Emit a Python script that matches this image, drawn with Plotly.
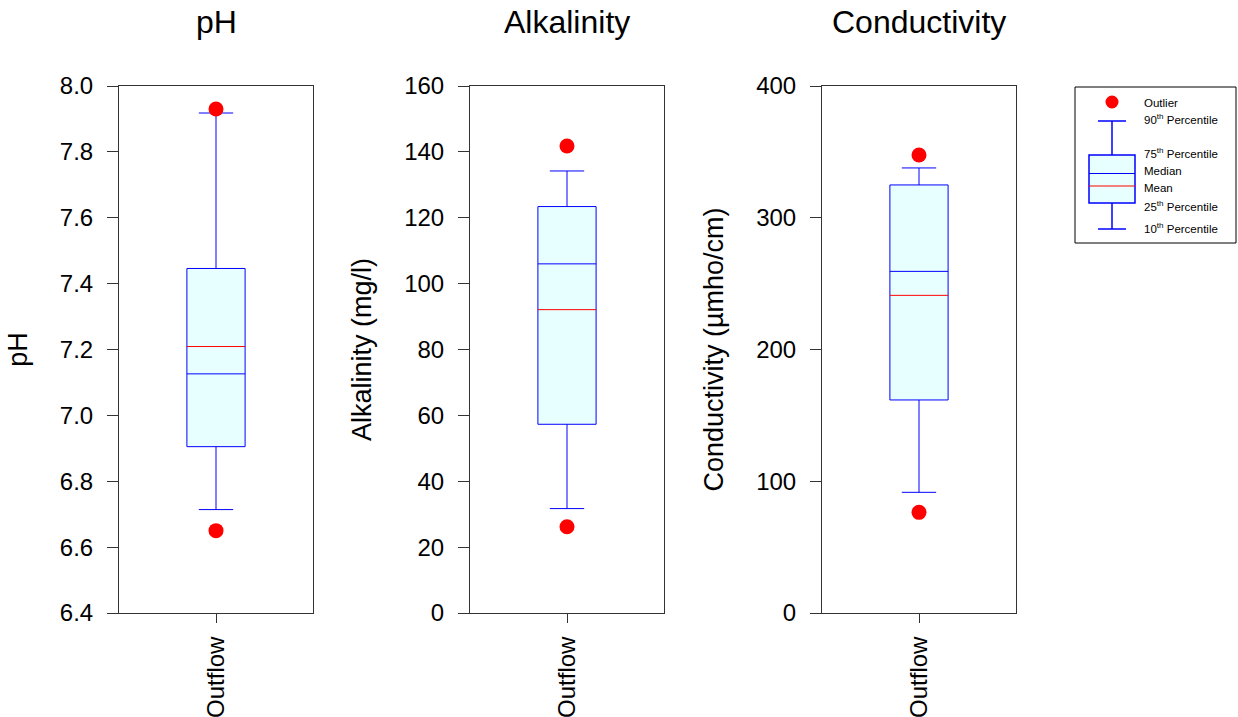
import plotly.graph_objects as go

# ---------------- data ----------------
categories = ["Outflow"]
panel_titles = ["pH", "Alkalinity", "Conductivity"]
axis_titles = ["pH", "Alkalinity (mg/l)", "Conductivity (µmho/cm)"]

ph_p10 = [6.714]
ph_q1 = [6.905]
ph_median = [7.126]
ph_mean = [7.209]
ph_q3 = [7.446]
ph_p90 = [7.918]
ph_outliers = [7.93, 6.65]

alk_p10 = [31.7]
alk_q1 = [57.3]
alk_median = [106.0]
alk_mean = [92.1]
alk_q3 = [123.4]
alk_p90 = [134.2]
alk_outliers = [141.8, 26.2]

cond_p10 = [91.6]
cond_q1 = [161.7]
cond_median = [259.3]
cond_mean = [241.1]
cond_q3 = [324.9]
cond_p90 = [337.8]
cond_outliers = [347.6, 76.4]

y_ranges = [[6.4, 8.0], [0, 160], [0, 400]]
y_dticks = [0.2, 20, 100]
y_formats = [".1f", "d", "d"]

# ---------------- styling ----------------
W, H = 1238, 717
FONT = "Arial, Liberation Sans, sans-serif"
BLUE = "#0000FF"
RED = "#FF0000"
FILL = "#E8FFFF"
AXC = "#333333"
BOX_W = 0.3

panels = [
    dict(p10=ph_p10, q1=ph_q1, med=ph_median, mean=ph_mean, q3=ph_q3, p90=ph_p90, out=ph_outliers),
    dict(p10=alk_p10, q1=alk_q1, med=alk_median, mean=alk_mean, q3=alk_q3, p90=alk_p90, out=alk_outliers),
    dict(p10=cond_p10, q1=cond_q1, med=cond_median, mean=cond_mean, q3=cond_q3, p90=cond_p90, out=cond_outliers),
]

# panel pixel positions (left, right), plot top/bottom
x_px = [(119, 313), (470, 664), (822, 1016)]
y_top, y_bot = 86, 613

def px(x):
    return x / W

def py(y):
    return (H - y) / H

fig = go.Figure()
layout = dict(
    width=W, height=H, autosize=False,
    margin=dict(l=0, r=0, t=0, b=0, pad=0),
    paper_bgcolor="white", plot_bgcolor="white",
    showlegend=False,
    font=dict(family=FONT, color="black"),
)

annotations = []
for i, p in enumerate(panels):
    n = "" if i == 0 else str(i + 1)
    xa, ya = "x" + n, "y" + n
    xs = list(range(len(categories)))
    fig.add_trace(go.Box(
        x=xs, q1=p["q1"], median=p["med"], q3=p["q3"],
        lowerfence=p["p10"], upperfence=p["p90"],
        width=BOX_W, whiskerwidth=0.59,
        fillcolor=FILL, line=dict(color=BLUE, width=1),
        boxpoints=False, xaxis=xa, yaxis=ya, hoverinfo="skip",
    ))
    for j, m in enumerate(p["mean"]):
        fig.add_trace(go.Scatter(
            x=[xs[j] - BOX_W / 2, xs[j] + BOX_W / 2], y=[m, m],
            mode="lines", line=dict(color=RED, width=1),
            xaxis=xa, yaxis=ya, hoverinfo="skip",
        ))
    fig.add_trace(go.Scatter(
        x=[xs[0]] * len(p["out"]), y=p["out"], mode="markers",
        marker=dict(color=RED, size=15, line=dict(width=0)),
        xaxis=xa, yaxis=ya, hoverinfo="skip", cliponaxis=False,
    ))

    l, r = x_px[i]
    layout["xaxis" + n] = dict(
        domain=[px(l), px(r)], anchor=ya, range=[-0.5, 0.5],
        tickvals=xs, ticktext=categories, tickangle=-90,
        ticks="outside", ticklen=9, tickcolor=AXC, tickwidth=1,
        showline=True, linecolor=AXC, linewidth=1, mirror=True,
        showgrid=False, zeroline=False, automargin=False,
        tickfont=dict(size=24, family=FONT, color="black"),
        ticklabelstandoff=4, fixedrange=True,
    )
    layout["yaxis" + n] = dict(
        domain=[py(y_bot), py(y_top)], anchor=xa,
        range=y_ranges[i], dtick=y_dticks[i], tick0=y_ranges[i][0],
        tickformat=y_formats[i],
        ticks="outside", ticklen=11, tickcolor=AXC, tickwidth=1,
        showline=True, linecolor=AXC, linewidth=1, mirror=True,
        showgrid=False, zeroline=False, automargin=False,
        tickfont=dict(size=24, family=FONT, color="black"),
        ticklabelstandoff=9,
        title=dict(text=axis_titles[i], font=dict(size=27, family=FONT, color="black"), standoff=24),
        fixedrange=True,
    )
    annotations.append(dict(
        text=panel_titles[i], xref="x" + n + " domain", yref="y" + n + " domain",
        x=0.5, y=1, xanchor="center", yanchor="middle", yshift=64,
        showarrow=False, font=dict(size=32, family=FONT, color="black"),
    ))

# ---------------- legend (drawn key) ----------------
shapes = []
LX0, LX1, LY0, LY1 = 1075, 1236, 87, 243
shapes.append(dict(type="rect", xref="paper", yref="paper",
                   x0=px(LX0), x1=px(LX1), y0=py(LY1), y1=py(LY0),
                   line=dict(color="black", width=1), fillcolor="white"))
cx = 1112
shapes.append(dict(type="circle", xref="paper", yref="paper",
                   x0=px(cx - 6.5), x1=px(cx + 6.5), y0=py(102 + 6.5), y1=py(102 - 6.5),
                   line=dict(width=0), fillcolor=RED))
for (x0, y0, x1, y1) in [(1098, 121, 1126, 121), (cx, 121, cx, 155),
                         (cx, 203, cx, 229), (1098, 229, 1126, 229)]:
    shapes.append(dict(type="line", xref="paper", yref="paper",
                       x0=px(x0), x1=px(x1), y0=py(y0), y1=py(y1),
                       line=dict(color=BLUE, width=1.5)))
shapes.append(dict(type="rect", xref="paper", yref="paper",
                   x0=px(1089), x1=px(1135), y0=py(203), y1=py(155),
                   line=dict(color=BLUE, width=1.5), fillcolor=FILL))
shapes.append(dict(type="line", xref="paper", yref="paper",
                   x0=px(1089), x1=px(1135), y0=py(173.5), y1=py(173.5),
                   line=dict(color=BLUE, width=1)))
shapes.append(dict(type="line", xref="paper", yref="paper",
                   x0=px(1089), x1=px(1135), y0=py(186), y1=py(186),
                   line=dict(color=RED, width=1)))

legend_labels = ["Outlier", "90<sup>th</sup> Percentile", "75<sup>th</sup> Percentile",
                 "Median", "Mean", "25<sup>th</sup> Percentile", "10<sup>th</sup> Percentile"]
legend_ys = [103, 119, 153, 171, 188, 206, 228]
for t, yy in zip(legend_labels, legend_ys):
    annotations.append(dict(text=t, xref="paper", yref="paper", x=px(1142), y=py(yy),
                            xanchor="left", yanchor="middle", showarrow=False,
                            font=dict(size=11.5, family=FONT, color="black")))

layout["annotations"] = annotations
layout["shapes"] = shapes
fig.update_layout(**layout)

fig.write_html("out.html", config={"displayModeBar": False},
               post_script="document.body.style.margin='0';document.body.style.overflow='hidden';")
